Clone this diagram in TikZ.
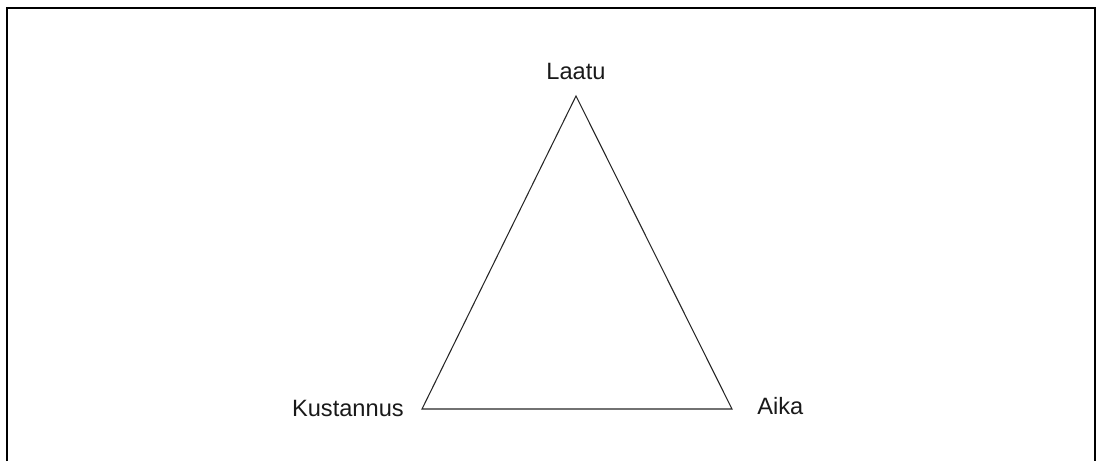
\documentclass[tikz,border=0pt]{standalone}
\usepackage{fontspec}
\setmainfont{Liberation Sans}
\usepackage{tikz}
\usetikzlibrary{positioning,calc}

\begin{document}
\begin{tikzpicture}[
    x=0.025cm, y=-0.025cm,
    frame/.style={draw=black, line width=1.5pt},
    side/.style={draw=black!85, line width=0.75pt, line join=miter},
    corner/.style={font=\fontsize{16.8}{20}\selectfont, inner sep=0pt, text=black!90}
]

\useasboundingbox (0,0) rectangle (1096,461);

% Outer frame (open at the bottom)
\draw[frame] (7,461) -- (7,8) -- (1095,8) -- (1095,461);

% Triangle corners
\coordinate (top) at (576,96);
\coordinate (left) at (422,409);
\coordinate (right) at (732,409);

% Labels
\node[corner] (laatu) at (576,71) {Laatu};
\node[corner, anchor=east] (kustannus) at (404,408) {Kustannus};
\node[corner, anchor=west] (aika) at (757,406) {Aika};

% Triangle
\draw[side] (top) -- (right) -- (left) -- cycle;

\end{tikzpicture}
\end{document}
